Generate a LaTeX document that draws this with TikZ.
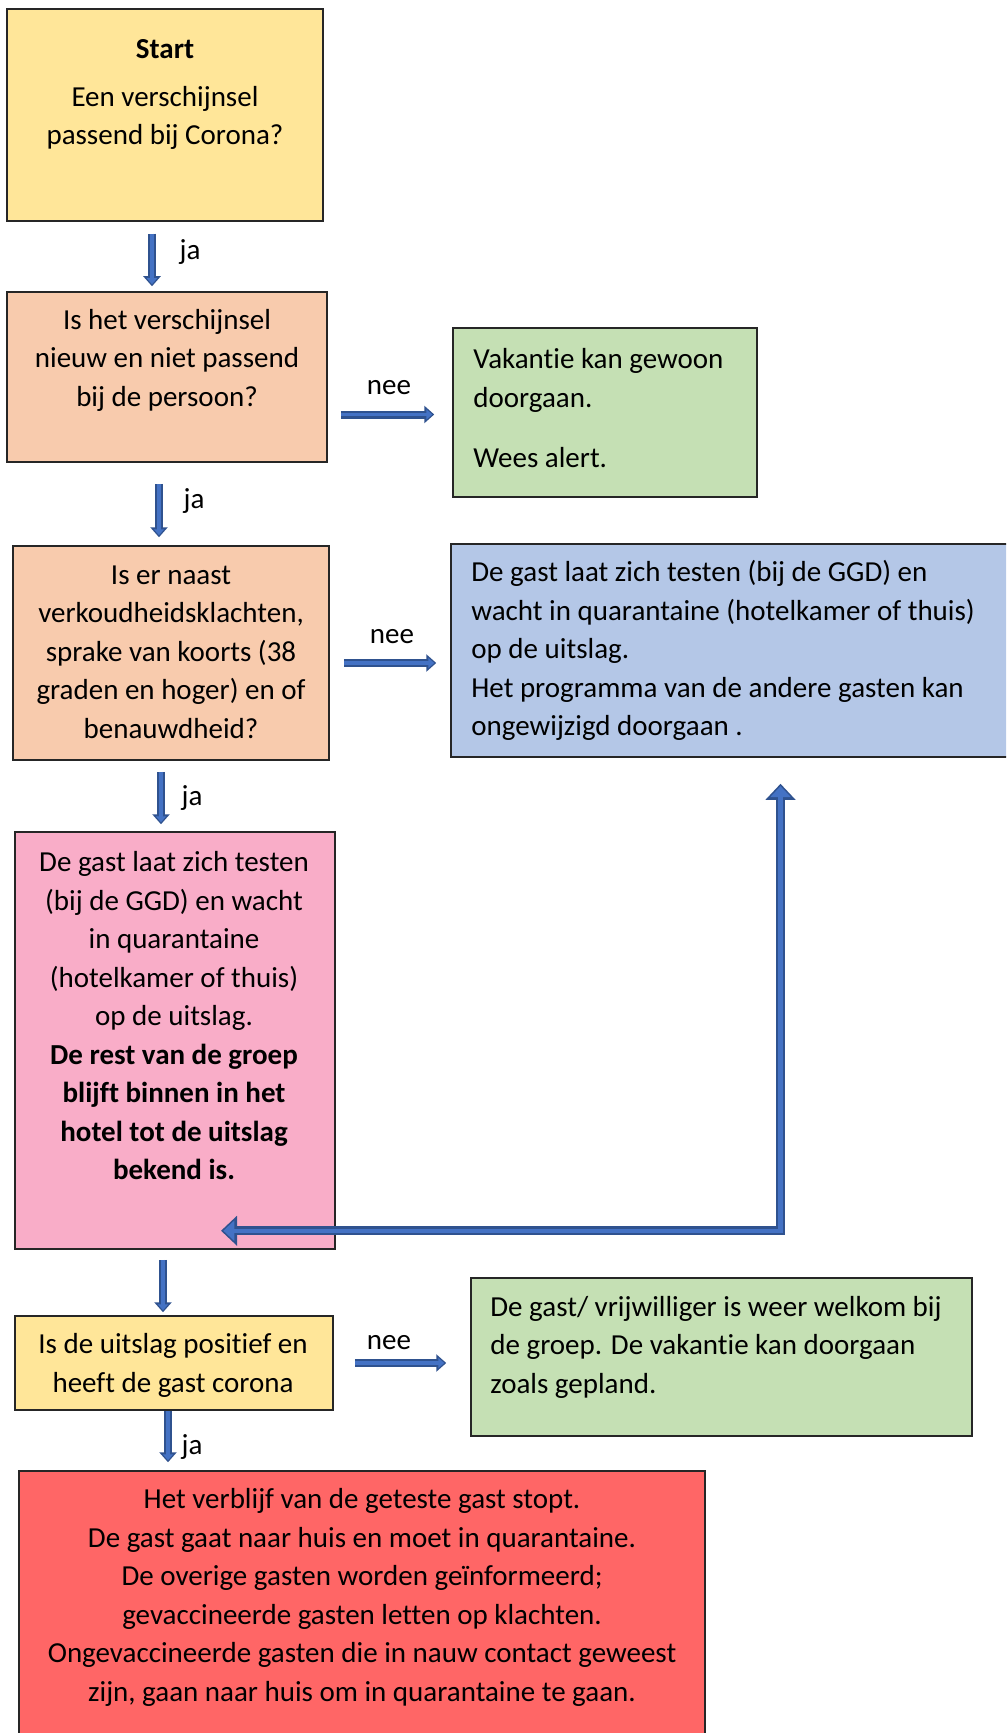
\documentclass[tikz,border=0pt]{standalone}
\usepackage{fontspec}
\setmainfont[Ligatures={NoCommon,NoContextual}, Contextuals={NoAlternate}]{Carlito}
\usetikzlibrary{arrows.meta,positioning}

\definecolor{geel}{HTML}{FFE699}
\definecolor{zalm}{HTML}{F8CBAD}
\definecolor{groen}{HTML}{C5E0B4}
\definecolor{blauw}{HTML}{B4C7E7}
\definecolor{roze}{HTML}{F9ADC8}
\definecolor{rood}{HTML}{FF6666}
\definecolor{pijl}{HTML}{4472C4}
\definecolor{pijlrand}{HTML}{2F528F}

\tikzset{
	box/.style={draw=black!85, line width=0.75pt, rectangle, inner sep=0pt},
	txt/.style={inner sep=0pt, align=center, font=\fontsize{14.5pt}{19.25pt}\selectfont},
	ltxt/.style={txt, align=left, anchor=west},
	lbl/.style={inner sep=0pt, font=\fontsize{14.5pt}{19.25pt}\selectfont},
	flow/.style={draw=pijlrand, line width=4pt, -{Triangle[width=8.5pt,length=5pt]},
		postaction={draw=pijl, line width=1.8pt, shorten >=1pt, -{Triangle[width=5pt,length=3pt]}}},
	bigflow/.style={draw=pijlrand, line width=4.5pt,
		{Triangle[width=14.5pt,length=8pt]}-{Triangle[width=14.5pt,length=8pt]},
		postaction={draw=pijl, line width=2.2pt, shorten >=1.2pt, shorten <=1.2pt,
			{Triangle[width=10pt,length=5.5pt]}-{Triangle[width=10pt,length=5.5pt]}}},
}

\begin{document}
\begin{tikzpicture}[x=0.5pt,y=-0.5pt]
			\useasboundingbox (0,0) rectangle (1006,1733);
			\clip (0,0) rectangle (1006,1733);

			% boxes
			\node[box, fill=geel, minimum width=158pt, minimum height=106pt] (start) at (165,115) {};
			\node[box, fill=zalm, minimum width=160pt, minimum height=85pt] (nieuw) at (167,377) {};
			\node[box, fill=groen, minimum width=152pt, minimum height=84.5pt] (doorgaan) at (605,412.5) {};
			\node[box, fill=zalm, minimum width=158pt, minimum height=107pt] (koorts) at (171,653) {};
			\node[box, fill=blauw, minimum width=282pt, minimum height=106.5pt] (testen) at (733,650.5) {};
			\node[box, fill=roze, minimum width=160pt, minimum height=208.5pt] (isolatie) at (175,1040.5) {};
			\node[box, fill=geel, minimum width=159pt, minimum height=47pt] (uitslag) at (174,1363) {};
			\node[box, fill=groen, minimum width=250.5pt, minimum height=79pt] (welkom) at (721.5,1357) {};
			\node[box, fill=rood, minimum width=343pt, minimum height=144.5pt] (stop) at (362,1615.5) {};

			% texts
			\node[txt] (start-txt) at (165,94.5) {\textbf{Start}\\[4.75pt]Een verschijnsel\\passend bij Corona?};
			\node[txt] (nieuw-txt) at (167,360) {Is het verschijnsel\\nieuw en niet passend\\bij de persoon?};
			\node[ltxt] (doorgaan-txt) at (473,408) {Vakantie kan gewoon\\doorgaan.\\[10.75pt]Wees alert.};
			\node[txt] (koorts-txt) at (171,652) {Is er naast\\verkoudheidsklachten,\\sprake van koorts (38\\graden en hoger) en of\\benauwdheid?};
			\node[ltxt] (testen-txt) at (471,650.5) {De gast laat zich testen (bij de GGD) en\\wacht in quarantaine (hotelkamer of thuis)\\op de uitslag.\\Het programma van de andere gasten kan\\ongewijzigd doorgaan .};
			\node[txt] (isolatie-txt) at (174,1016) {De gast laat zich testen\\(bij de GGD) en wacht\\in quarantaine\\(hotelkamer of thuis)\\op de uitslag.\\\textbf{De rest van de groep}\\\textbf{blijft binnen in het}\\\textbf{hotel tot de uitslag}\\\textbf{bekend is.}};
			\node[txt] (uitslag-txt) at (173,1365.5) {Is de uitslag positief en\\heeft de gast corona};
			\node[ltxt] (welkom-txt) at (490,1347) {De gast/ vrijwilliger is weer welkom bij\\de groep. De vakantie kan doorgaan\\zoals gepland.};
			\node[txt] (stop-txt) at (362,1597.5) {Het verblijf van de geteste gast stopt.\\De gast gaat naar huis en moet in quarantaine.\\De overige gasten worden geïnformeerd;\\gevaccineerde gasten letten op klachten.\\Ongevaccineerde gasten die in nauw contact geweest\\zijn, gaan naar huis om in quarantaine te gaan.};

			% arrows
			\draw[flow] ([xshift=-6.5pt,yshift=-6pt]start.south) -- ([xshift=-7.5pt,yshift=2.5pt]nieuw.north);
			\draw[flow] ([xshift=-4pt,yshift=-10.5pt]nieuw.south) -- ([xshift=-6pt,yshift=4pt]koorts.north);
			\draw[flow] ([xshift=-5pt,yshift=-5.5pt]koorts.south) -- ([xshift=-7pt,yshift=3.5pt]isolatie.north);
			\draw[flow] ([xshift=-6pt,yshift=-5pt]isolatie.south) -- ([xshift=-5.5pt,yshift=1.5pt]uitslag.north);
			\draw[flow] ([xshift=-3pt]uitslag.south) -- ([xshift=-3pt,yshift=4pt]uitslag.south |- stop.north);
			\draw[flow] ([xshift=6.5pt,yshift=-1pt]nieuw.east |- doorgaan.west) -- ([xshift=-9pt,yshift=-1pt]doorgaan.west);
			\draw[flow] ([xshift=7pt,yshift=-6.25pt]koorts.east |- testen.west) -- ([xshift=-7pt,yshift=-6.25pt]testen.west);
			\draw[flow] ([xshift=10.5pt]uitslag.east) -- ([xshift=-12pt]uitslag.east -| welkom.west);
			\draw[bigflow] ([xshift=23pt,yshift=9.5pt]isolatie.south) -| ([xshift=23.75pt,yshift=-13pt]testen.south);

			% labels
			\node[lbl] (ja1) at (190,252) {ja};
			\node[lbl] (ja2) at (194,501) {ja};
			\node[lbl] (ja3) at (192,798) {ja};
			\node[lbl] (ja4) at (192,1447) {ja};
			\node[lbl] (nee1) at (389,388) {nee};
			\node[lbl] (nee2) at (392,637) {nee};
			\node[lbl] (nee3) at (389,1343) {nee};
\end{tikzpicture}
\end{document}
